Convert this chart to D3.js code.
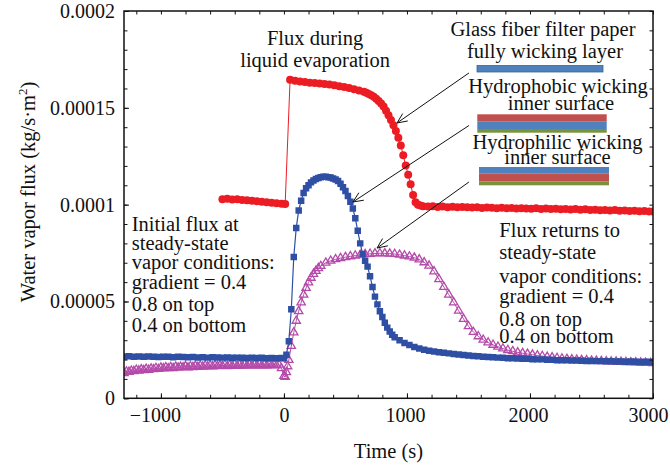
<!DOCTYPE html>
<html><head><meta charset="utf-8">
<script src="https://cdn.jsdelivr.net/npm/d3@7"></script>
<style>
body{margin:0;background:#fff}
text{font-family:"Liberation Serif","Times New Roman",serif;fill:#111}
</style>
</head><body>
<svg id="c" width="670" height="465"></svg>
<script>
// ---------- data (flux values in units of 1e-5 kg/s·m²) ----------
const xTicksMajor = [-1000, 0, 1000, 2000, 3000];
const xTickLabels = ["\u22121000", "0", "1000", "2000", "3000"];
const yTicksMajor = [0, 0.00005, 0.0001, 0.00015, 0.0002];
const yTickLabels = ["0", "0.00005", "0.0001", "0.00015", "0.0002"];

const redTime = [-500,-460,-420,-380,-340,-300,-260,-220,-180,-140,-100,-60,-20,10,
 50,90,130,170,210,250,290,330,370,410,450,490,530,570,610,650,
 670,690,710,730,750,770,790,810,830,850,870,890,910,930,950,970,990,1010,1030,1050,1070,1090,1110,1130,
 1170,1210,1250,1290,1330,1370,1410,1450,1490,1530,1570,1610,1650,1690,1730,1770,1810,1850,1890,1930,
 1970,2010,2050,2090,2130,2170,2210,2250,2290,2330,2370,2410,2450,2490,2530,2570,2610,2650,2690,2730,
 2770,2810,2850,2890,2930,2970,3000];
const redFlux = [10.28,10.31,10.27,10.28,10.24,10.23,10.20,10.18,10.15,10.12,10.10,10.07,10.05,10.03,
 16.45,16.40,16.36,16.33,16.30,16.28,16.26,16.23,16.20,16.17,16.12,16.07,16.02,15.96,15.90,15.83,
 15.78,15.72,15.65,15.57,15.47,15.35,15.22,15.07,14.85,14.62,14.37,14.10,13.80,13.45,13.05,12.55,12.02,11.55,11.05,10.50,10.12,10.00,9.95,9.92,
 9.90,9.92,9.88,9.90,9.87,9.89,9.86,9.88,9.87,9.85,9.86,9.83,9.85,9.84,9.82,9.84,9.81,9.83,9.80,9.82,
 9.80,9.79,9.81,9.78,9.80,9.77,9.79,9.76,9.78,9.75,9.77,9.74,9.76,9.73,9.74,9.71,9.73,9.70,9.72,9.69,
 9.70,9.67,9.69,9.66,9.67,9.65,9.64];

const blueTime = [-1300,-1260,-1220,-1180,-1140,-1100,-1060,-1020,-980,-940,-900,-860,-820,-780,-740,-700,-660,-620,-580,-540,-500,-460,-420,-380,-340,-300,-260,-220,-180,-140,-100,-60,-20,
 0,20,40,60,80,100,120,140,160,180,200,220,240,260,280,300,320,340,360,380,400,420,440,460,480,500,520,540,560,580,600,620,640,660,680,700,720,740,760,780,800,820,840,860,880,900,
 940,980,1020,1060,1100,1140,1180,1220,1260,1300,1340,1380,1420,1460,1500,1540,1580,1620,1660,1700,1740,1780,1820,1860,1900,1940,1980,2020,2060,2100,2140,2180,2220,2260,2300,2340,2380,2420,2460,2500,2540,2580,2620,2660,2700,2740,2780,2820,2860,2900,2940,2980,3000];
const blueFlux = [2.16,2.17,2.15,2.16,2.14,2.16,2.15,2.13,2.15,2.14,2.12,2.14,2.13,2.12,2.13,2.11,2.12,2.10,2.12,2.11,2.10,2.11,2.09,2.10,2.09,2.08,2.10,2.08,2.09,2.07,2.08,2.07,2.08,
 2.07,2.25,2.95,4.60,7.30,8.80,9.70,10.20,10.60,10.85,11.00,11.15,11.25,11.33,11.38,11.42,11.44,11.44,11.42,11.40,11.35,11.30,11.22,11.08,10.90,10.70,10.45,10.15,9.80,9.30,8.65,8.00,7.45,7.10,6.80,6.30,5.75,5.25,4.85,4.50,4.20,3.90,3.65,3.45,3.28,3.15,
 3.00,2.86,2.75,2.65,2.57,2.51,2.46,2.42,2.38,2.35,2.32,2.29,2.26,2.24,2.21,2.19,2.17,2.15,2.13,2.12,2.10,2.09,2.07,2.07,2.05,2.04,2.04,2.02,2.01,2.01,1.99,1.99,1.97,1.97,1.96,1.95,1.95,1.94,1.93,1.93,1.92,1.92,1.91,1.91,1.90,1.90,1.89,1.90,1.89,1.88,1.89,1.88,1.88];

const magentaTime = [-1300,-1280,-1260,-1240,-1220,-1200,-1180,-1160,-1140,-1120,-1100,-1080,-1060,-1040,-1020,-1000,-980,-960,-940,-920,-900,-880,-860,-840,-820,-800,-780,-760,-740,-720,-700,-680,-660,-640,-620,-600,-580,-560,-540,-520,-500,-480,-460,-440,-420,-400,-380,-360,-340,-320,-300,-280,-260,-240,-220,-200,-180,-160,-140,-120,-100,-80,-60,-40,
 -20,0,10,20,30,40,60,80,100,120,140,160,180,200,220,240,260,280,300,
 340,380,420,460,500,540,580,620,660,700,740,780,820,860,900,940,980,1020,1060,1100,1140,1180,1220,1260,1300,1340,1380,1420,1460,1500,
 1540,1580,1620,1660,1700,1740,1780,1820,1860,1900,1940,1980,2020,2060,2100,2140,2180,2220,2260,2300,2340,2380,2420,2460,2500,2540,2580,2620,2660,2700,
 2740,2780,2820,2860,2900,2940,2980,3000];
const magentaFlux = [1.30,1.38,1.36,1.42,1.40,1.47,1.43,1.49,1.45,1.52,1.47,1.53,1.50,1.56,1.51,1.58,1.54,1.60,1.55,1.61,1.56,1.63,1.58,1.62,1.60,1.66,1.59,1.65,1.61,1.67,1.62,1.68,1.63,1.69,1.64,1.70,1.65,1.71,1.66,1.70,1.67,1.73,1.66,1.72,1.68,1.74,1.67,1.73,1.69,1.74,1.68,1.75,1.70,1.74,1.69,1.76,1.70,1.75,1.69,1.76,1.71,1.74,1.70,1.73,
 1.55,1.15,1.10,1.35,1.65,1.98,2.70,3.40,4.00,4.50,4.95,5.35,5.70,5.98,6.22,6.42,6.58,6.72,6.83,
 7.00,7.10,7.18,7.24,7.29,7.33,7.37,7.41,7.44,7.46,7.48,7.49,7.48,7.47,7.45,7.41,7.37,7.32,7.26,7.17,7.02,6.85,6.55,6.15,5.75,5.35,4.95,4.52,4.10,3.72,
 3.42,3.20,3.02,2.88,2.76,2.66,2.57,2.49,2.43,2.37,2.33,2.29,2.25,2.21,2.18,2.14,2.11,2.08,2.05,2.03,2.01,1.99,1.97,1.96,1.94,1.93,1.92,1.91,1.90,1.89,
 1.88,1.87,1.86,1.85,1.84,1.83,1.82,1.81];

// ---------- layout ----------
const L = 124, R = 653, T = 11, B = 398.3;
const FS = 20, FA = 20.5;
const RED = "#ec1c24", BLUE = "#2f4fa5", MAG = "#b44aa9";

const svg = d3.select("#c");
const x = d3.scaleLinear().domain([-1300, 3000]).range([L, R]);
const y = d3.scaleLinear().domain([0, 0.0002]).range([B, T]);
const U = 1e-5;

function pts(ts, vs){ return ts.map((t,i)=>[t, vs[i]*U]).filter(d=>!isNaN(d[1])); }
const redData = pts(redTime, redFlux);
const blueData = pts(blueTime, blueFlux);
const magData = pts(magentaTime, magentaFlux);

svg.append("defs").append("clipPath").attr("id","clip")
  .append("rect").attr("x",L).attr("y",T).attr("width",R-L).attr("height",B-T);
const plot = svg.append("g").attr("clip-path","url(#clip)");
const line = d3.line().x(d=>x(d[0])).y(d=>y(d[1]));

// red
plot.append("path").datum(redData).attr("d",line).attr("fill","none").attr("stroke",RED).attr("stroke-width",1);
plot.append("g").selectAll("circle").data(redData).join("circle")
  .attr("cx",d=>x(d[0])).attr("cy",d=>y(d[1])).attr("r",4).attr("fill",RED);

// magenta
plot.append("path").datum(magData).attr("d",line).attr("fill","none").attr("stroke",MAG).attr("stroke-width",1);
const tri = d3.symbol().type(d3.symbolTriangle).size(30);
plot.append("g").selectAll("path").data(magData).join("path")
  .attr("d",tri).attr("transform",d=>`translate(${x(d[0])},${y(d[1])})`)
  .attr("fill","none").attr("stroke",MAG).attr("stroke-width",1.3);

// blue
plot.append("path").datum(blueData).attr("d",line).attr("fill","none").attr("stroke",BLUE).attr("stroke-width",1.2);
const sq = d3.symbol().type(d3.symbolSquare).size(42);
plot.append("g").selectAll("path").data(blueData).join("path")
  .attr("d",sq).attr("transform",d=>`translate(${x(d[0])},${y(d[1])})`).attr("fill",BLUE);

// ---------- axes ----------
const xMinor = d3.range(-1200, 3001, 200);
const yMinor = d3.range(0, 0.000201, 0.00001);
function styleAxis(g){ g.select(".domain").remove(); g.selectAll("line").attr("stroke","#111").attr("stroke-width",1); g.selectAll("text").style("font-size",FS+"px").attr("fill","#111"); }

svg.append("g").attr("transform",`translate(0,${B})`)
  .call(d3.axisBottom(x).tickValues(xMinor).tickSize(-3.5).tickFormat("")).call(styleAxis);
const xa = svg.append("g").attr("transform",`translate(0,${B})`)
  .call(d3.axisBottom(x).tickValues(xTicksMajor).tickSize(-5).tickPadding(10).tickFormat((d,i)=>xTickLabels[i])).call(styleAxis);
xa.selectAll("text").attr("dx",(d,i)=> i===0 ? -6 : (i===xTicksMajor.length-1 ? -5 : (d===0?0:-2)));

svg.append("g").attr("transform",`translate(0,${T})`)
  .call(d3.axisTop(x).tickValues(xMinor).tickSize(-3.5).tickFormat("")).call(styleAxis);
svg.append("g").attr("transform",`translate(${L},0)`)
  .call(d3.axisLeft(y).tickValues(yMinor).tickSize(-3.5).tickFormat("")).call(styleAxis);
svg.append("g").attr("transform",`translate(${L},0)`)
  .call(d3.axisLeft(y).tickValues(yTicksMajor).tickSize(-5).tickPadding(9).tickFormat((d,i)=>yTickLabels[i])).call(styleAxis);
svg.append("g").attr("transform",`translate(${R},0)`)
  .call(d3.axisRight(y).tickValues(yMinor).tickSize(-3.5).tickFormat("")).call(styleAxis);

svg.append("rect").attr("x",L).attr("y",T).attr("width",R-L).attr("height",B-T)
  .attr("fill","none").attr("stroke","#111").attr("stroke-width",1.5);

// axis titles
svg.append("text").attr("x",(L+R)/2).attr("y",458).attr("text-anchor","middle").style("font-size",FA+"px").text("Time (s)");
const yt = svg.append("text").attr("transform","translate(35,192) rotate(-90)").attr("text-anchor","middle").style("font-size",FA+"px");
yt.append("tspan").text("Water vapor flux (kg/s\u00b7m");
yt.append("tspan").attr("dy",-8).style("font-size","13px").text("2");
yt.append("tspan").attr("dy",8).text(")");

// ---------- annotations ----------
function block(x0, y0, lines, offs, anchor){
  const g = svg.append("g");
  lines.forEach((s,i)=> g.append("text").attr("x",x0).attr("y",y0+offs[i]).attr("text-anchor",anchor||"start").style("font-size",FA+"px").text(s));
}
block(x(253), 45, ["Flux during","liquid evaporation"], [0,21.7], "middle");
block(x(-1237), 230.7, ["Initial flux at","steady-state","vapor conditions:","gradient = 0.4","0.8 on top","0.4 on bottom"], [0,19.3,38.6,58.6,80.3,101]);
block(x(1751), 236.7, ["Flux returns to","steady-state","vapor conditions:","gradient = 0.4","0.8 on top","0.4 on bottom"], [0,22.6,46.6,66,89.3,106.6]);

// labels with layered bars
const OB = "#4f81bd", OR = "#c0504d", OG = "#77933c";
function lab(cx, by, s){ svg.append("text").attr("x",cx).attr("y",by).attr("text-anchor","middle").style("font-size",FA+"px").text(s); }
lab(543, 36, "Glass fiber filter paper");
lab(545, 58.3, "fully wicking layer");
svg.append("rect").attr("x",477).attr("y",65.5).attr("width",126).attr("height",6.5).attr("fill",OB).attr("stroke","#3a6396").attr("stroke-width",0.8);

lab(558, 93.3, "Hydrophobic wicking");
lab(561, 110, "inner surface");
[[OR,114.3,7.4],[OB,121.7,7.3],[OG,129,3.7]].forEach(b=>svg.append("rect").attr("x",477.3).attr("y",b[1]).attr("width",129.4).attr("height",b[2]).attr("fill",b[0]));

lab(557.5, 149.3, "Hydrophilic wicking");
lab(557.5, 164.3, "inner surface");
[[OB,167,6.7],[OR,173.7,7.6],[OG,181.3,4]].forEach(b=>svg.append("rect").attr("x",479).attr("y",b[1]).attr("width",130).attr("height",b[2]).attr("fill",b[0]));

// arrows (tips in data coordinates)
const arrows = [
  {from:[1504, 1.680e-4], to:[919, 1.4216e-4]},
  {from:[1504, 1.4087e-4], to:[561, 1.0137e-4]},
  {from:[1504, 1.117e-4], to:[757, 7.76e-5]}
];
arrows.forEach(a=>{
  const x1=x(a.from[0]), y1=y(a.from[1]), x2=x(a.to[0]), y2=y(a.to[1]);
  const ang = Math.atan2(y2-y1, x2-x1), hl = 11, ha = 0.42;
  const g = svg.append("g").attr("stroke","#111").attr("stroke-width",1).attr("fill","none");
  g.append("line").attr("x1",x1).attr("y1",y1).attr("x2",x2).attr("y2",y2);
  g.append("path").attr("d",`M${x2-hl*Math.cos(ang-ha)},${y2-hl*Math.sin(ang-ha)}L${x2},${y2}L${x2-hl*Math.cos(ang+ha)},${y2-hl*Math.sin(ang+ha)}`);
});
</script>
</body></html>
